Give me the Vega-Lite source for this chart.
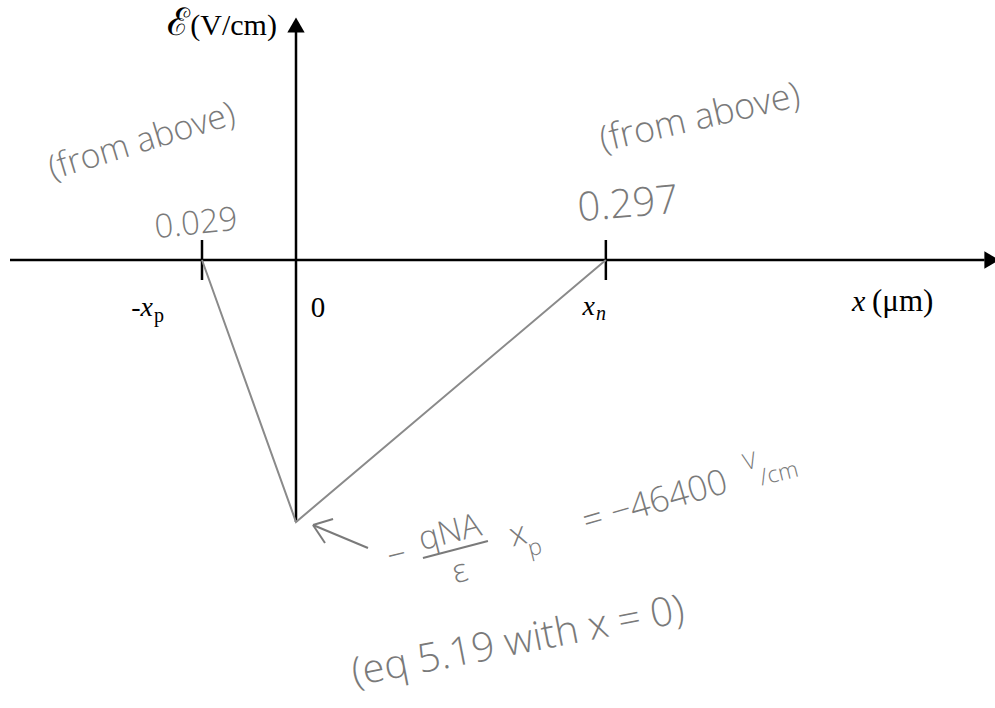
{
  "$schema": "https://vega.github.io/schema/vega-lite/v6.json",
  "width": 995,
  "height": 708,
  "padding": 0,
  "autosize": {"type": "none"},
  "background": "white",
  "config": {"view": {"stroke": null}},
  "datasets": {
    "field": [
      {"x": -0.029, "E": 0},
      {"x": 0, "E": -46400},
      {"x": 0.297, "E": 0}
    ],
    "xaxis": [{"x": -0.088, "x2": 0.66, "E": 0}],
    "yaxis": [{"x": 0, "E": -46400, "E2": 40500}],
    "xarrow": [{"x": 0.667, "E": 0}],
    "yarrow": [{"x": 0, "E": 41600}],
    "edges": [{"x": -0.029, "E": 0}, {"x": 0.297, "E": 0}],
    "pointer": [
      {"x": 0.0163, "E": -46930, "x2": 0.069, "E2": -51000},
      {"x": 0.0163, "E": -46930, "x2": 0.0355, "E2": -45870},
      {"x": 0.0163, "E": -46930, "x2": 0.0278, "E2": -50120}
    ],
    "fracbar": [{"x": 0.1217, "E": -52776, "x2": 0.184, "E2": -49765}],
    "notes": [
      {"id": "ysym", "text": "ℰ", "x": -0.0327, "E": 39850},
      {"id": "ylab", "text": "(V/cm)", "x": -0.0059, "E": 39850},
      {"id": "xvar", "text": "-x", "x": -0.04406, "E": -9918},
      {"id": "xvar", "text": "x", "x": 0.2866, "E": -9740},
      {"id": "subp", "text": "p", "x": -0.04375, "E": -10980},
      {"id": "subn", "text": "n", "x": 0.2876, "E": -10626},
      {"id": "zero", "text": "0", "x": 0.0211, "E": -10095},
      {"id": "xlab", "text": "x", "x": 0.5329, "E": -9032},
      {"id": "xunit", "text": "(μm)", "x": 0.5521, "E": -9032},
      {"id": "fromL", "text": "(from above)", "x": -0.04744, "E": 20898},
      {"id": "fromR", "text": "(from above)", "x": 0.3872, "E": 25148},
      {"id": "xp", "text": "0.029", "x": -0.0308, "E": 6376},
      {"id": "xn", "text": "0.297", "x": 0.3182, "E": 9740},
      {"id": "expr", "text": "−", "x": 0.0968, "E": -52421},
      {"id": "expr", "text": "qNA", "x": 0.1476, "E": -48348},
      {"id": "expr", "text": "ε", "x": 0.1572, "E": -55255},
      {"id": "expr", "text": "x", "x": 0.2128, "E": -48702},
      {"id": "exprsub", "text": "p", "x": 0.2291, "E": -51004},
      {"id": "value", "text": "= −46400", "x": 0.3441, "E": -42858},
      {"id": "exprsub", "text": "V", "x": 0.4352, "E": -35774},
      {"id": "exprsub", "text": "/cm", "x": 0.463, "E": -37899},
      {"id": "eq", "text": "(eq 5.19 with x = 0)", "x": 0.2128, "E": -67652}
    ]
  },
  "encoding": {
    "x": {
      "field": "x",
      "type": "quantitative",
      "axis": null,
      "scale": {"type": "linear", "domain": [-0.088, -0.029, 0, 0.67], "range": [10, 202, 296, 995], "nice": false, "zero": false}
    },
    "y": {
      "field": "E",
      "type": "quantitative",
      "axis": null,
      "scale": {"type": "linear", "domain": [-46400, 0], "range": [522, 260], "nice": false, "zero": false}
    }
  },
  "layer": [
    {
      "data": {"name": "xaxis"},
      "mark": {"type": "rule", "color": "black", "strokeWidth": 2.5},
      "encoding": {"x2": {"field": "x2"}}
    },
    {
      "data": {"name": "yaxis"},
      "mark": {"type": "rule", "color": "black", "strokeWidth": 2.5},
      "encoding": {"y2": {"field": "E2"}}
    },
    {
      "data": {"name": "xarrow"},
      "mark": {"type": "point", "shape": "triangle-right", "filled": true, "size": 300, "color": "black", "opacity": 1}
    },
    {
      "data": {"name": "yarrow"},
      "mark": {"type": "point", "shape": "triangle-up", "filled": true, "size": 300, "color": "black", "opacity": 1}
    },
    {
      "data": {"name": "edges"},
      "mark": {"type": "tick", "orient": "vertical", "size": 40, "thickness": 2.5, "color": "black", "opacity": 1}
    },
    {
      "data": {"name": "field"},
      "mark": {"type": "line", "color": "#8a8a8a", "strokeWidth": 2}
    },
    {
      "data": {"name": "pointer"},
      "mark": {"type": "rule", "color": "#7a7a7a", "strokeWidth": 2},
      "encoding": {"x2": {"field": "x2"}, "y2": {"field": "E2"}}
    },
    {
      "data": {"name": "fracbar"},
      "mark": {"type": "rule", "color": "#7a7a7a", "strokeWidth": 2},
      "encoding": {"x2": {"field": "x2"}, "y2": {"field": "E2"}}
    },
    {
      "data": {"name": "notes"},
      "transform": [{"filter": "datum.id === 'ysym'"}],
      "mark": {"type": "text", "font": "DejaVu Serif", "fontSize": 38, "align": "right", "baseline": "alphabetic", "color": "black"},
      "encoding": {"text": {"field": "text"}}
    },
    {
      "data": {"name": "notes"},
      "transform": [{"filter": "datum.id === 'ylab'"}],
      "mark": {"type": "text", "font": "Liberation Serif", "fontSize": 30, "align": "right", "baseline": "alphabetic", "color": "black"},
      "encoding": {"text": {"field": "text"}}
    },
    {
      "data": {"name": "notes"},
      "transform": [{"filter": "datum.id === 'xvar'"}],
      "mark": {"type": "text", "font": "Liberation Serif", "fontSize": 28, "fontStyle": "italic", "align": "right", "baseline": "alphabetic", "color": "black"},
      "encoding": {"text": {"field": "text"}}
    },
    {
      "data": {"name": "notes"},
      "transform": [{"filter": "datum.id === 'subp'"}],
      "mark": {"type": "text", "font": "Liberation Serif", "fontSize": 20, "align": "left", "baseline": "alphabetic", "color": "black"},
      "encoding": {"text": {"field": "text"}}
    },
    {
      "data": {"name": "notes"},
      "transform": [{"filter": "datum.id === 'subn'"}],
      "mark": {"type": "text", "font": "Liberation Serif", "fontSize": 20, "fontStyle": "italic", "align": "left", "baseline": "alphabetic", "color": "black"},
      "encoding": {"text": {"field": "text"}}
    },
    {
      "data": {"name": "notes"},
      "transform": [{"filter": "datum.id === 'zero'"}],
      "mark": {"type": "text", "font": "Liberation Serif", "fontSize": 29, "align": "center", "baseline": "alphabetic", "color": "black"},
      "encoding": {"text": {"field": "text"}}
    },
    {
      "data": {"name": "notes"},
      "transform": [{"filter": "datum.id === 'xlab'"}],
      "mark": {"type": "text", "font": "Liberation Serif", "fontSize": 30, "fontStyle": "italic", "align": "left", "baseline": "alphabetic", "color": "black"},
      "encoding": {"text": {"field": "text"}}
    },
    {
      "data": {"name": "notes"},
      "transform": [{"filter": "datum.id === 'xunit'"}],
      "mark": {"type": "text", "font": "Liberation Serif", "fontSize": 31, "align": "left", "baseline": "alphabetic", "color": "black"},
      "encoding": {"text": {"field": "text"}}
    },
    {
      "data": {"name": "notes"},
      "transform": [{"filter": "datum.id === 'fromL'"}],
      "mark": {"type": "text", "font": "Open Sans", "fontWeight": 300, "fontSize": 34, "angle": 343, "align": "center", "baseline": "middle", "color": "#7a7a7a"},
      "encoding": {"text": {"field": "text"}}
    },
    {
      "data": {"name": "notes"},
      "transform": [{"filter": "datum.id === 'fromR'"}],
      "mark": {"type": "text", "font": "Open Sans", "fontWeight": 300, "fontSize": 36, "angle": 347, "align": "center", "baseline": "middle", "color": "#7a7a7a"},
      "encoding": {"text": {"field": "text"}}
    },
    {
      "data": {"name": "notes"},
      "transform": [{"filter": "datum.id === 'xp'"}],
      "mark": {"type": "text", "font": "Open Sans", "fontWeight": 300, "fontSize": 33, "angle": 354, "align": "center", "baseline": "middle", "color": "#7a7a7a"},
      "encoding": {"text": {"field": "text"}}
    },
    {
      "data": {"name": "notes"},
      "transform": [{"filter": "datum.id === 'xn'"}],
      "mark": {"type": "text", "font": "Open Sans", "fontWeight": 300, "fontSize": 40, "letterSpacing": 5, "angle": 355, "align": "center", "baseline": "middle", "color": "#7a7a7a"},
      "encoding": {"text": {"field": "text"}}
    },
    {
      "data": {"name": "notes"},
      "transform": [{"filter": "datum.id === 'expr'"}],
      "mark": {"type": "text", "font": "Open Sans", "fontWeight": 300, "fontSize": 33, "angle": 346, "align": "center", "baseline": "middle", "color": "#7a7a7a"},
      "encoding": {"text": {"field": "text"}}
    },
    {
      "data": {"name": "notes"},
      "transform": [{"filter": "datum.id === 'exprsub'"}],
      "mark": {"type": "text", "font": "Open Sans", "fontWeight": 300, "fontSize": 23, "angle": 346, "align": "center", "baseline": "middle", "color": "#7a7a7a"},
      "encoding": {"text": {"field": "text"}}
    },
    {
      "data": {"name": "notes"},
      "transform": [{"filter": "datum.id === 'value'"}],
      "mark": {"type": "text", "font": "Open Sans", "fontWeight": 300, "fontSize": 35, "angle": 344, "align": "center", "baseline": "middle", "color": "#7a7a7a"},
      "encoding": {"text": {"field": "text"}}
    },
    {
      "data": {"name": "notes"},
      "transform": [{"filter": "datum.id === 'eq'"}],
      "mark": {"type": "text", "font": "Open Sans", "fontWeight": 300, "fontSize": 40, "angle": 349, "align": "center", "baseline": "middle", "color": "#7a7a7a"},
      "encoding": {"text": {"field": "text"}}
    }
  ]
}
